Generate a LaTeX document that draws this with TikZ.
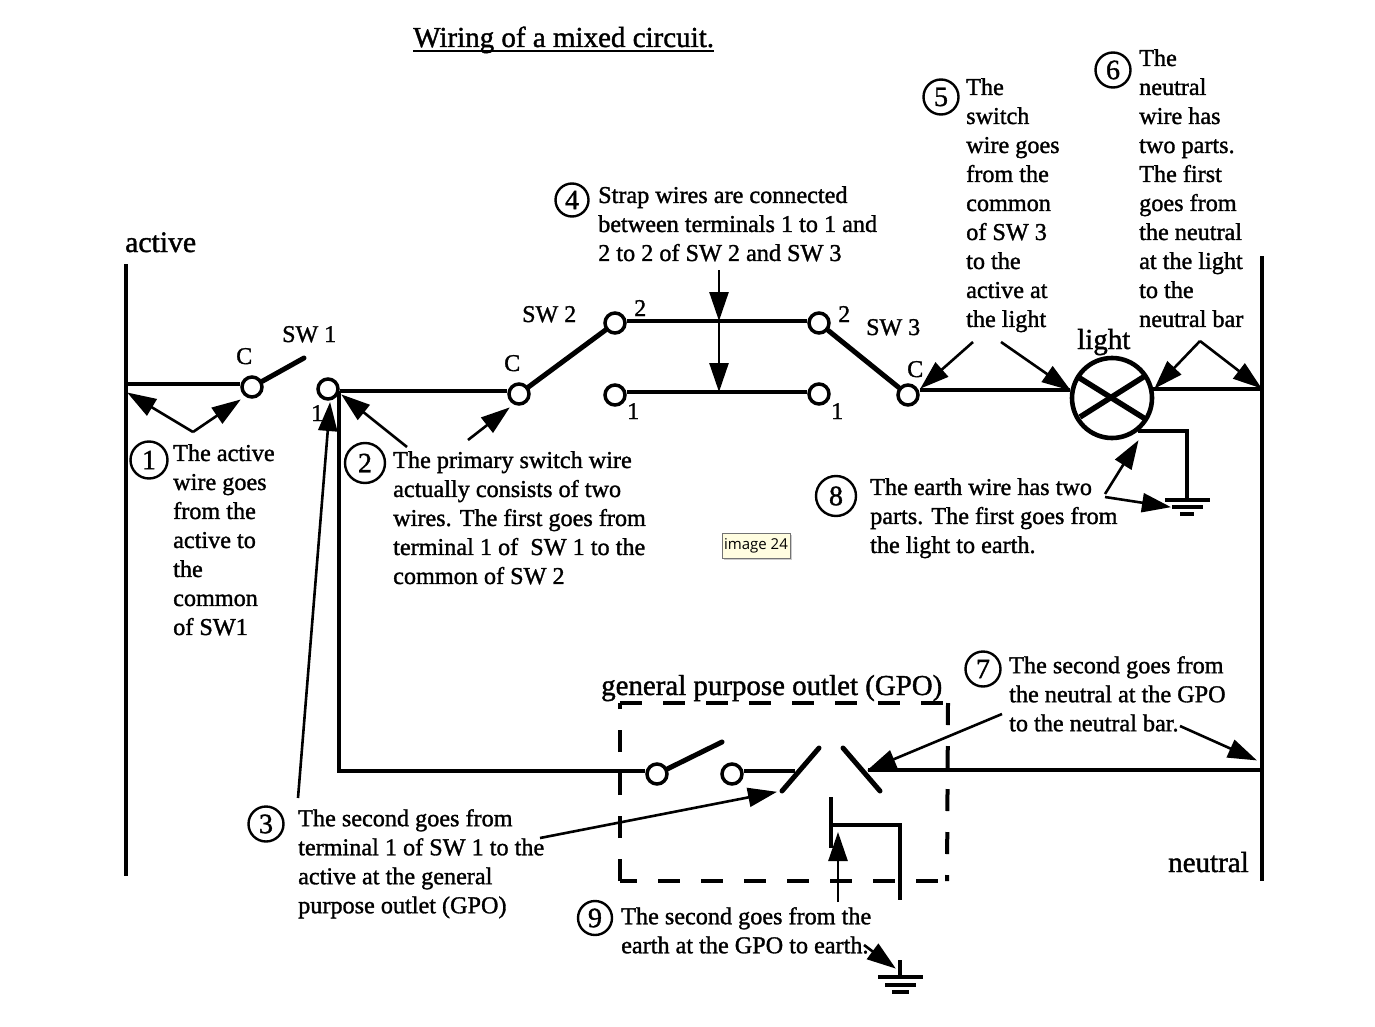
\documentclass[tikz,border=0pt]{standalone}
\usepackage{fontspec}
\setmainfont{Liberation Serif}[FakeBold=1.3]
\newfontfamily\tipfont{Open Sans}
\usetikzlibrary{arrows.meta,shadows}
\tikzset{
  wire/.style={line width=4pt,line cap=butt,line join=miter},
  blade/.style={line width=5pt,line cap=round},
  rail/.style={line width=4.5pt},
  thin wire/.style={line width=3.6pt},
  dashbox/.style={line width=4pt,dash pattern=on 22pt off 21pt},
  pointer/.style={line width=2.6pt,-{Triangle[length=29pt,width=19pt]},shorten >=-1pt},
  term/.style={circle,draw,fill=white,line width=3.5pt,minimum size=20pt,inner sep=0pt},
  numcirc/.style={circle,draw,line width=2.4pt,inner sep=0pt,font=\fontsize{28}{28}\selectfont},
  body/.style={anchor=north west,inner sep=0pt,align=left,font=\fontsize{24.2}{29}\selectfont},
  lab/.style={anchor=base west,inner sep=0pt,font=\fontsize{24}{24}\selectfont},
  biglab/.style={anchor=base west,inner sep=0pt,font=\fontsize{29}{29}\selectfont},
  tip/.style={draw=black!55,fill=yellow!12,line width=0.6pt,inner sep=0pt,minimum width=68pt,minimum height=25pt,
    font=\tipfont\fontsize{15}{15}\selectfont,drop shadow={shadow xshift=2pt,shadow yshift=-2pt,opacity=.4}}
}
\begin{document}
\begin{tikzpicture}[x=1pt,y=-1pt]
\useasboundingbox[fill=white] (0,0) rectangle (1375,1027);
% --- texts
\node[biglab] (title) at (413,47) {Wiring of a mixed circuit.};
\draw[line width=2.4pt] ([yshift=-4pt]title.base west) -- ([yshift=-4pt]title.base east);
\node[biglab,font=\fontsize{29.7}{30}\selectfont] (lactive) at (125,252) {active};
\node[biglab] (lneutral) at (1168,872) {neutral};
\node[biglab] (llight) at (1077,349) {light};
\node[biglab,font=\fontsize{28.9}{30}\selectfont] (lgpo) at (601,695) {general purpose outlet (GPO)};
\node[lab] (lsw1) at (282,342) {SW 1};
\node[lab] (lsw2) at (522,322) {SW 2};
\node[lab] (lsw3) at (866,335) {SW 3};
\node[lab] (lc1) at (236,364) {C};
\node[lab] (lc2) at (504,371) {C};
\node[lab] (lc3) at (907,377) {C};
\node[lab] (lone1) at (311,421) {1};
\node[lab] (ltwo2) at (634,316) {2};
\node[lab] (lone2) at (627,419) {1};
\node[lab] (ltwo3) at (838,322) {2};
\node[lab] (lone3) at (831,419) {1};
\node[body] (t1) at (173,444) {The active\\wire goes\\from the\\active to\\the\\common\\of SW1};
\node[body] (t2) at (393,451) {The primary switch wire\\actually consists of two\\wires. The first goes from\\terminal 1 of\ \ SW 1 to the\\common of SW 2};
\node[body] (t3) at (298,809) {The second goes from\\terminal 1 of SW 1 to the\\active at the general\\purpose outlet (GPO)};
\node[body] (t4) at (598,186) {Strap wires are connected\\between terminals 1 to 1 and\\2 to 2 of SW 2 and SW 3};
\node[body] (t5) at (966,78) {The\\switch\\wire goes\\from the\\common\\of SW 3\\to the\\active at\\the light};
\node[body] (t6) at (1139,49) {The\\neutral\\wire has\\two parts.\\The first\\goes from\\the neutral\\at the light\\to the\\neutral bar};
\node[body] (t7) at (1009,656) {The second goes from\\the neutral at the GPO\\to the neutral bar.};
\node[body] (t8) at (870,478) {The earth wire has two\\parts. The first goes from\\the light to earth.};
\node[body] (t9) at (621,907) {The second goes from the\\earth at the GPO to earth.};
% --- numbered circles
\node[numcirc,minimum size=37pt] (n1) at (149,460) {1};
\node[numcirc,minimum size=40pt] (n2) at (365,463) {2};
\node[numcirc,minimum size=35pt] (n3) at (266,824) {3};
\node[numcirc,minimum size=33pt] (n4) at (572,200) {4};
\node[numcirc,minimum size=35pt] (n5) at (941,97) {5};
\node[numcirc,minimum size=35pt] (n6) at (1113,70) {6};
\node[numcirc,minimum size=35pt] (n7) at (983,669) {7};
\node[numcirc,minimum size=40pt] (n8) at (836,496) {8};
\node[numcirc,minimum size=34pt] (n9) at (595,918) {9};
\node[tip] (tipbox) at (756,545.5) {image 24};
% --- terminals
\node[term] (c1) at (252,387) {};
\node[term] (a1) at (328,389) {};
\node[term] (c2) at (519,394) {};
\node[term] (b2) at (615,323) {};
\node[term] (d2) at (615,395) {};
\node[term] (b3) at (819,323) {};
\node[term] (d3) at (819,394) {};
\node[term] (c3) at (908,395) {};
\node[term] (g1) at (657,774) {};
\node[term] (g2) at (732,774) {};
\node[circle,draw,fill=white,line width=4.6pt,minimum size=80pt,inner sep=0pt] (lamp) at (1112,398) {};
% --- coordinates
\coordinate (acttop) at (126,264);
\coordinate (actbot) at (126,876);
\coordinate (neutop) at (1262,256);
\coordinate (neubot) at (1262,881);
\coordinate (actj) at (126,384);
\coordinate (sw1tip) at (304,358);
\coordinate (w2s) at (339,391);
\coordinate (w2e) at (510,391);
\coordinate (w3c) at (339,771);
\coordinate (g1w) at (647,771);
\coordinate (g1tip) at (722,742);
\coordinate (g2e) at (795,771);
\coordinate (bla) at (782,791);
\coordinate (blb) at (819,748);
\coordinate (brga) at (843,748);
\coordinate (brgb) at (880,791);
\coordinate (neuj) at (868,770);
\coordinate (neujr) at (1262,770);
\coordinate (s2a) at (615,321);
\coordinate (s2b) at (819,321);
\coordinate (s1a) at (615,392);
\coordinate (s1b) at (819,392);
\coordinate (w3l) at (917,390);
\coordinate (lampw) at (1070,390);
\coordinate (lampe) at (1153,389);
\coordinate (neul) at (1262,389);
\coordinate (xa) at (1078,377);
\coordinate (xb) at (1147,420);
\coordinate (xc) at (1080,417);
\coordinate (xd) at (1145,376);
\coordinate (ea) at (1138,431);
\coordinate (eb) at (1187,431);
\coordinate (ec) at (1187,499);
\coordinate (g11) at (1165,500); \coordinate (g12) at (1210,500);
\coordinate (g21) at (1172,507); \coordinate (g22) at (1203,507);
\coordinate (g31) at (1180,514); \coordinate (g32) at (1194,514);
\coordinate (oa) at (831,797);
\coordinate (ob) at (831,848);
\coordinate (oc) at (831,825);
\coordinate (od) at (900,825);
\coordinate (oe) at (900,900);
\coordinate (ega) at (900,960);
\coordinate (egb) at (900,977);
\coordinate (h11) at (878,977); \coordinate (h12) at (923,977);
\coordinate (h21) at (885,985); \coordinate (h22) at (916,985);
\coordinate (h31) at (892,992); \coordinate (h32) at (909,992);
\coordinate (bxa) at (620,703);
\coordinate (bxb) at (948,703);
\coordinate (bxc) at (947,881);
\coordinate (bxd) at (620,881);
% --- rails and wires
\draw[rail] (acttop) -- (actbot);
\draw[rail] (neutop) -- (neubot);
\draw[wire] (actj) -- (actj -| c1.west);
\draw[blade] (c1) -- (sw1tip);
\draw[wire] (w2s -| a1.east) -- (w2e -| c2.west);
\draw[blade] (c2) -- (b2);
\draw[wire] (s2a -| b2.east) -- (s2b -| b3.west);
\draw[wire] (s1a -| d2.east) -- (s1b -| d3.west);
\draw[blade] (b3) -- (c3);
\draw[wire] (w3l -| c3.east) -- (lampw);
\draw[wire] (lampe) -- (neul);
\draw[line width=5.5pt] (xa) -- (xb);
\draw[line width=5.5pt] (xc) -- (xd);
\draw[thin wire] (ea) -- (eb) -- (ec);
\draw[line width=3.6pt] (g11) -- (g12);
\draw[line width=3.6pt] (g21) -- (g22);
\draw[line width=3.6pt] (g31) -- (g32);
\draw[wire] (w2s) -- (w3c) -- (g1w -| g1.west);
\draw[blade] (g1) -- (g1tip);
\draw[wire] (g2e -| g2.east) -- (g2e);
\draw[blade] (bla) -- (blb);
\draw[blade] (brga) -- (brgb);
\draw[wire] (neuj) -- (neujr);
\draw[thin wire] (oa) -- (ob);
\draw[thin wire] (oc) -- (od) -- (oe);
\draw[thin wire] (ega) -- (egb);
\draw[line width=3.6pt] (h11) -- (h12);
\draw[line width=3.6pt] (h21) -- (h22);
\draw[line width=3.6pt] (h31) -- (h32);
% --- dashed box
\draw[dashbox] (bxa) -- (bxb);
\draw[dashbox] (bxb) -- (bxc);
\draw[dashbox] (bxd) -- (bxa);
\draw[dashbox,dash phase=5pt] (bxd) -- (bxc);
% --- pointers
\coordinate (p1) at (193,432); \coordinate (p1a) at (128,393); \coordinate (p1b) at (240,400);
\draw[pointer] (p1) -- (p1a);
\draw[pointer] (p1) -- (p1b);
\coordinate (p2) at (407,447); \coordinate (p2a) at (342,395);
\coordinate (p2c) at (468,440); \coordinate (p2d) at (509,408);
\draw[pointer] (p2) -- (p2a);
\draw[pointer] (p2c) -- (p2d);
\coordinate (p3) at (298,798); \coordinate (p3a) at (330,403);
\coordinate (p3c) at (540,838); \coordinate (p3d) at (776,792);
\draw[pointer] (p3) -- (p3a);
\draw[pointer] (p3c) -- (p3d);
\coordinate (p4) at (719,270); \coordinate (p4a) at (719,320); \coordinate (p4b) at (719,391);
\draw[pointer] (p4) -- (p4a);
\draw[pointer] (p4a) -- (p4b);
\coordinate (p5l) at (973,342); \coordinate (p5a) at (921,388);
\coordinate (p5r) at (1001,342); \coordinate (p5b) at (1070,390);
\draw[pointer] (p5l) -- (p5a);
\draw[pointer] (p5r) -- (p5b);
\coordinate (p6) at (1200,341); \coordinate (p6a) at (1155,388); \coordinate (p6b) at (1261,388);
\draw[pointer] (p6) -- (p6a);
\draw[pointer] (p6) -- (p6b);
\coordinate (p7) at (1002,714); \coordinate (p7a) at (868,770);
\coordinate (p7c) at (1180,726); \coordinate (p7d) at (1256,760);
\draw[pointer] (p7) -- (p7a);
\draw[pointer] (p7c) -- (p7d);
\coordinate (p8) at (1105,494); \coordinate (p8a) at (1138,441);
\coordinate (p8c) at (1105,497); \coordinate (p8d) at (1170,507);
\draw[pointer] (p8) -- (p8a);
\draw[pointer] (p8c) -- (p8d);
\coordinate (p9) at (838,902); \coordinate (p9a) at (838,833);
\coordinate (p9c) at (864,945); \coordinate (p9d) at (895,968);
\draw[pointer] (p9) -- (p9a);
\draw[pointer] (p9c) -- (p9d);
\end{tikzpicture}
\end{document}
